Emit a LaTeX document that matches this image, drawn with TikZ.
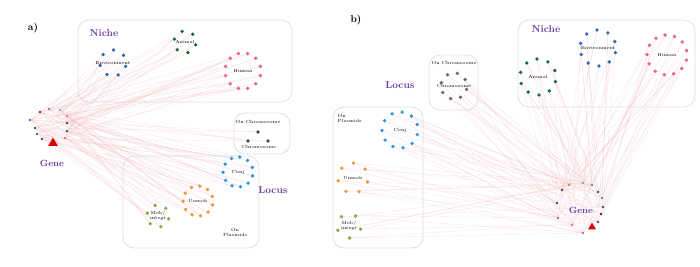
\documentclass[tikz,border=0pt]{standalone}
\usetikzlibrary{backgrounds,shapes.geometric}
\definecolor{purp}{RGB}{110,60,165}
\definecolor{envc}{RGB}{55,105,175}
\definecolor{anic}{RGB}{25,105,65}
\definecolor{humc}{RGB}{230,95,145}
\definecolor{conjc}{RGB}{45,155,215}
\definecolor{unmc}{RGB}{240,150,60}
\definecolor{mobc}{RGB}{130,170,70}
\definecolor{chrc}{RGB}{70,70,70}
\definecolor{edgec}{RGB}{235,170,180}
\tikzset{
  dot/.style={circle,inner sep=0pt,minimum size=3.8pt},
  clab/.style={font=\fontsize{4.5}{5}\selectfont,inner sep=0.5pt,align=center},
  grp/.style={font=\fontsize{10}{12}\selectfont\bfseries,text=purp},
  panel/.style={font=\fontsize{10}{12}\selectfont\bfseries},
  boxc/.style={draw=gray!25,line width=0.8pt,rounded corners=11pt},
  edge/.style={draw=edgec,line width=0.3pt,opacity=0.35},
  tri/.style={regular polygon,regular polygon sides=3,fill=red!85!black,inner sep=0pt,minimum size=11pt},
}
\newcommand\mkclust[7]{%
  \foreach \i in {1,...,#5}{%
    \pgfmathsetmacro\px{#2+#4*cos(360/#5*\i+15)}%
    \pgfmathsetmacro\py{#3+#4*sin(360/#5*\i+15)}%
    \node[dot,fill=#6] (#1-\i) at (\px,\py) {};}
  \node[clab] (#1-lab) at (#2,#3) {#7};}
\newcommand\mkedges[4]{%
  \foreach \i in {1,...,#4}{%
    \pgfmathtruncatemacro\ka{mod(\i*7,#2)+1}%
    \pgfmathtruncatemacro\kb{mod(\i*5+3,#2)+1}%
    \draw[edge] (#1-\ka) -- (#3-\i);
    \draw[edge] (#1-\kb) -- (#3-\i);}}
\begin{document}
\begin{tikzpicture}[x=1pt,y=-1pt]
\useasboundingbox (0,0) rectangle (700,267);
% ---------------- panel a ----------------
\node[panel] (pa) at (33,28) {a)};
\draw[boxc] (78,20) rectangle (292,102);
\draw[boxc] (234,113) rectangle (290,154);
\draw[boxc] (123,156) rectangle (259,248);
\node[grp] (nicheA) at (104,33) {Niche};
\node[grp] (locusA) at (273,190) {Locus};
\node[clab] (plasA) at (235,232) {On\\Plasmids};
\mkclust{envA}{113}{63}{13}{7}{envc}{Environment}
\mkclust{aniA}{185}{42}{11}{6}{anic}{Animal}
\mkclust{humA}{243}{71}{18}{12}{humc}{Human}
\mkclust{conjA}{238}{172}{15}{11}{conjc}{Conj}
\mkclust{unmA}{198}{201}{15}{11}{unmc}{Unmob}
\mkclust{mobA}{158}{216}{11}{6}{mobc}{Mob/\\ integr}
\node[clab] (chrAtop) at (258,122) {On Chromosome};
\node[dot,fill=chrc] (chrA-1) at (258,132) {};
\node[dot,fill=chrc] (chrA-2) at (248,141) {};
\node[dot,fill=chrc] (chrA-3) at (268,141) {};
\node[clab] (chrA-lab) at (259,147) {Chromosome};
% gene hub a
\foreach \x/\y/\c [count=\n] in {40/112/red!70!black, 49/109/gray, 60/110/teal!60, 67/116/red!60, 67/123/chrc, 67/131/chrc, 65/138/red!60, 30/120/envc, 35/128/chrc, 37/134/envc, 42/139/chrc}{
  \node[dot,fill=\c,minimum size=2.8pt] (hA-\n) at (\x,\y) {};}
\node[tri] (hA-tri) at (53,143) {};
\node[grp,font=\fontsize{9}{11}\selectfont\bfseries] (geneA) at (52,163) {Gene};
\begin{scope}[on background layer]
  \mkedges{hA}{11}{envA}{7}
  \mkedges{hA}{11}{aniA}{6}
  \mkedges{hA}{11}{humA}{12}
  \mkedges{hA}{11}{conjA}{11}
  \mkedges{hA}{11}{unmA}{11}
  \mkedges{hA}{11}{mobA}{6}
  \mkedges{hA}{11}{chrA}{3}
\end{scope}
% ---------------- panel b ----------------
\node[panel] (pb) at (356,20) {b)};
\draw[boxc] (518,20) rectangle (695,107);
\draw[boxc] (429,55) rectangle (478,110);
\draw[boxc] (333,107) rectangle (423,248);
\node[grp] (nicheB) at (546,29) {Niche};
\node[grp] (locusB) at (400,85) {Locus};
\node[clab,align=left,anchor=west] (plasB) at (337,118) {On\\Plasmids};
\node[clab] (chrBtop) at (454,63) {On Chromosome};
\mkclust{envB}{598}{48}{18}{10}{envc}{Environment}
\mkclust{aniB}{538}{77}{18}{10}{anic}{Animal}
\mkclust{humB}{667}{55}{20}{13}{humc}{Human}
\mkclust{chrB}{454}{86}{13}{8}{chrc!80}{Chromosome}
\mkclust{conjB}{400}{130}{18}{11}{conjc}{Conj}
\mkclust{unmB}{353}{178}{15}{7}{unmc}{Unmob}
\mkclust{mobB}{349}{226}{12}{5}{mobc}{Mob/\\ integr}
% gene hub b
\foreach \x/\y/\c [count=\n] in {569/185/mobc, 583/183/teal!60, 592/185/gray, 598/192/chrc, 602/198/gray, 603/207/chrc, 601/214/red!70!black, 598/222/chrc, 583/233/gray, 572/225/red!60, 558/218/gray, 557/203/chrc, 562/190/chrc}{
  \node[dot,fill=\c,minimum size=2.8pt] (hB-\n) at (\x,\y) {};}
\node[tri,minimum size=9pt] (hB-tri) at (592,227) {};
\node[grp,font=\fontsize{9}{11}\selectfont\bfseries] (geneB) at (581,210) {Gene};
\begin{scope}[on background layer]
  \mkedges{hB}{13}{envB}{10}
  \mkedges{hB}{13}{aniB}{10}
  \mkedges{hB}{13}{humB}{13}
  \mkedges{hB}{13}{chrB}{8}
  \mkedges{hB}{13}{conjB}{11}
  \mkedges{hB}{13}{unmB}{7}
  \mkedges{hB}{13}{mobB}{5}
\end{scope}
\end{tikzpicture}
\end{document}
